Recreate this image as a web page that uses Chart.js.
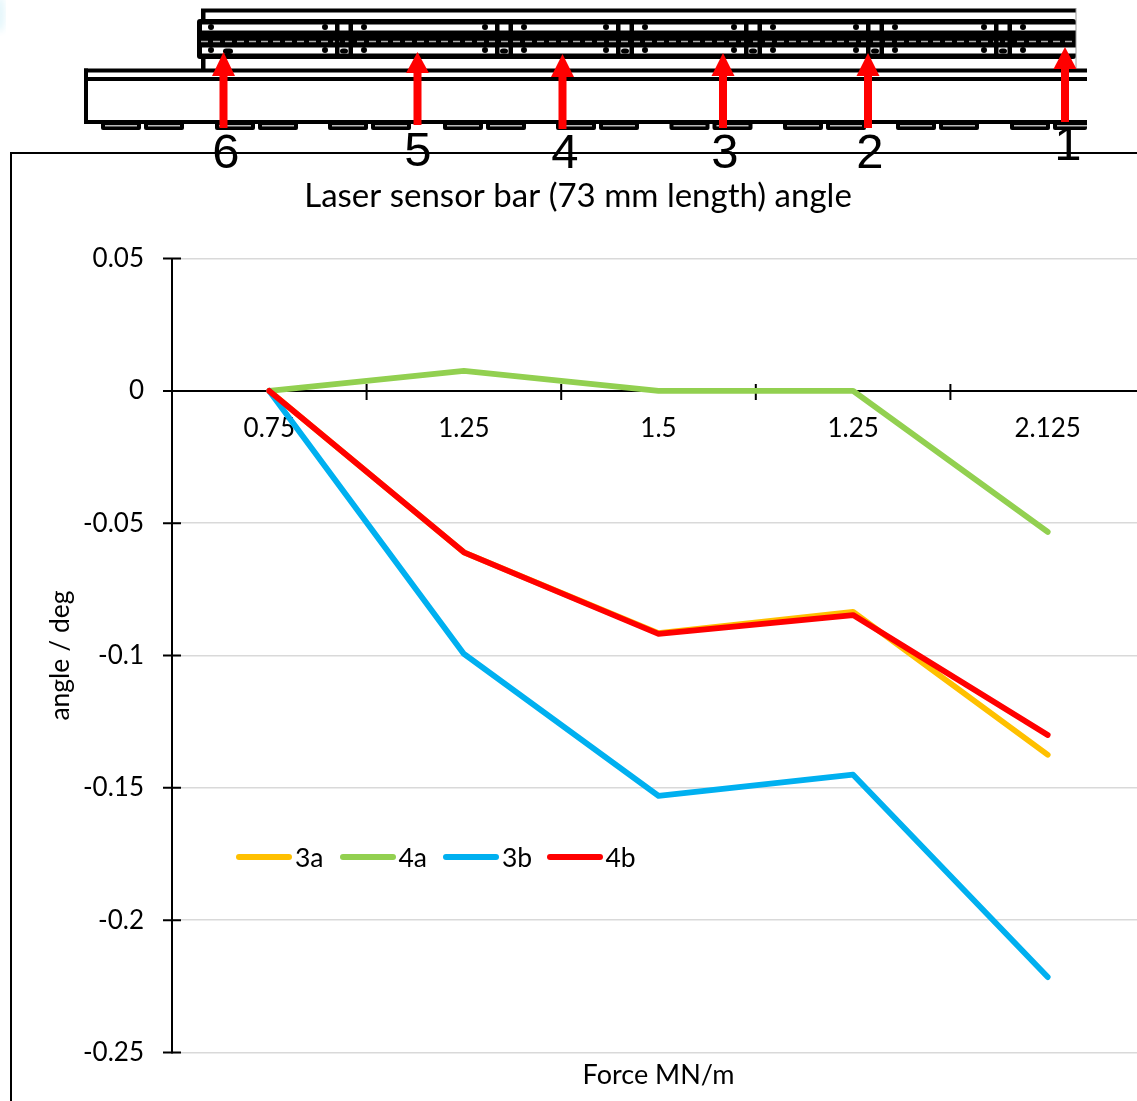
<!DOCTYPE html>
<html>
<head>
<meta charset="utf-8">
<title>Laser sensor bar angle</title>
<script src="https://cdn.jsdelivr.net/npm/chart.js@4"></script>
<style>
html, body { margin: 0; padding: 0; width: 1137px; height: 1101px; overflow: hidden; background: #fff; }
#wrap { position: absolute; left: 0; top: 0; width: 1156px; height: 1101px; }
#chart { position: absolute; left: 0; top: 0; }
#diagram { position: absolute; left: 0; top: 0; }
#legend { position: absolute; left: 236px; top: 840px; display: flex; font: 26.5px Lato, sans-serif; color: #000; line-height: 34px; }
#legend .item { display: flex; align-items: center; width: 103.5px; }
#legend .swatch { width: 56px; height: 5.5px; border-radius: 3px; margin-right: 3px; }
</style>
</head>
<body>
<div id="wrap">
    <canvas id="chart" width="1156" height="1101"></canvas>
    <svg id="diagram" width="1137" height="1101"></svg>
    <div id="legend"></div>
</div>
<script>
var categories = ['0.75', '1.25', '1.5', '1.25', '2.125'];
var values3a = [0, -0.061, -0.0915, -0.0835, -0.1375];
var values4a = [0, 0.0076, 0, 0, -0.0533];
var values3b = [0, -0.0994, -0.153, -0.145, -0.2215];
var values4b = [0, -0.061, -0.0918, -0.0847, -0.13];

// sketch of the bar above the chart
var jointX = [344, 504, 625, 753, 875, 1003];
var padX = [101, 215, 328, 443, 556, 669.5, 783, 896, 1010];
var arrows = [
    { label: '6', x: 223.5, tip: 52, base: 76, end: 128, textX: 226, textY: 168 },
    { label: '5', x: 417.5, tip: 52, base: 73, end: 125, textX: 418, textY: 166 },
    { label: '4', x: 562.5, tip: 54, base: 77, end: 129, textX: 565, textY: 168 },
    { label: '3', x: 723, tip: 53, base: 76, end: 128, textX: 725, textY: 168 },
    { label: '2', x: 868, tip: 53, base: 76, end: 128, textX: 870, textY: 168 },
    { label: '1', x: 1065, tip: 47, base: 69, end: 122, textX: 1068, textY: 160 }
];

function rect(x, y, w, h, fill, rx) {
    return '<rect x="' + x + '" y="' + y + '" width="' + w + '" height="' + h + '" fill="' + fill + '"' + (rx ? ' rx="' + rx + '"' : '') + '/>';
}

function dot(x, y) {
    return '<circle cx="' + x + '" cy="' + y + '" r="3" fill="#000"/>';
}

function buildDiagram() {
    var s = '';
    // faint smudge in the corner
    s += '<defs><filter id="soft"><feGaussianBlur stdDeviation="3"/></filter></defs>';
    s += '<ellipse cx="0" cy="14" rx="5" ry="18" fill="#e4f6fb" filter="url(#soft)"/>';
    // rail
    s += rect(201, 8.5, 875, 4, '#000');
    s += rect(201, 10, 4.5, 60, '#000');
    s += rect(197, 19, 879, 40, '#000', 3);
    s += rect(202, 24.5, 874, 6, '#fff');
    s += rect(202, 47.5, 874, 6, '#fff');
    s += '<line x1="201" y1="41.5" x2="1076" y2="41.5" stroke="#aaa" stroke-width="1.5" stroke-dasharray="7 5"/>';
    s += '<line x1="1076" y1="8" x2="1076" y2="68" stroke="#999" stroke-width="1"/>';
    s += dot(211, 27) + dot(211, 50) + rect(223, 48.5, 10, 5.5, '#000', 3);
    jointX.forEach(function(c) {
        s += rect(c - 9, 24, 4.5, 30, '#000') + rect(c + 4.5, 24, 4.5, 30, '#000');
        s += rect(c - 4, 48.5, 8, 5, '#000', 3);
        s += dot(c - 19, 27) + dot(c + 20, 27) + dot(c - 19, 50) + dot(c + 20, 50);
    });
    // base plate
    s += rect(84, 68.5, 1003, 4, '#000');
    s += rect(84, 77, 1003, 4, '#000');
    s += rect(84, 68.5, 4, 55, '#000');
    s += rect(84, 120, 1003, 4, '#000');
    padX.forEach(function(x) {
        s += rect(x, 122, 40, 8, '#000', 2) + rect(x + 43, 122, Math.min(40, 1087 - x - 43), 8, '#000', 2);
        s += rect(x + 4, 125, 32, 1.5, '#bbb') + rect(x + 47, 125, Math.min(32, 1087 - x - 47), 1.5, '#bbb');
    });
    // frame of the chart
    s += rect(11, 152, 1126, 2, '#000');
    s += rect(10, 152, 2, 949, '#000');
    // arrows and their numbers
    arrows.forEach(function(a) {
        s += rect(a.x - 4, a.base - 1, 8, a.end - a.base + 1, '#f00');
        s += '<polygon fill="#f00" points="' + a.x + ',' + a.tip + ' ' + (a.x + 11.5) + ',' + a.base + ' ' + (a.x - 11.5) + ',' + a.base + '"/>';
        s += '<text x="' + a.textX + '" y="' + a.textY + '" text-anchor="middle" font-family="Liberation Sans" font-size="49" fill="#000">' + a.label + '</text>';
    });
    document.getElementById('diagram').innerHTML = s;
}

// ticks that cross both axes, as in the spreadsheet original
var crossTicks = {
    id: 'crossTicks',
    beforeDraw: function(chart) {
        // title is centred on the whole canvas, not on the padded box
        chart.titleBlock.left = 0;
        chart.titleBlock.right = chart.width;
    },
    beforeDatasetsDraw: function(chart) {
        var ctx = chart.ctx;
        var x = chart.scales.x;
        var y = chart.scales.y;
        var zero = y.getPixelForValue(0);
        ctx.save();
        ctx.strokeStyle = '#000';
        ctx.lineWidth = 2;
        ctx.beginPath();
        for (var i = 1; i < categories.length; i++) {
            var px = (x.getPixelForValue(i - 1) + x.getPixelForValue(i)) / 2;
            ctx.moveTo(px, zero - 7);
            ctx.lineTo(px, zero + 9);
        }
        y.ticks.forEach(function(t) {
            var py = y.getPixelForValue(t.value);
            ctx.moveTo(y.right - 9, py);
            ctx.lineTo(y.right + 9, py);
        });
        ctx.stroke();
        ctx.restore();
    }
};

var chart = new Chart(document.getElementById('chart'), {
    type: 'line',
    plugins: [crossTicks],
    data: {
        labels: categories,
        datasets: [
            { label: '3a', data: values3a, borderColor: '#FFC000', order: 4 },
            { label: '4a', data: values4a, borderColor: '#92D050', order: 3 },
            { label: '3b', data: values3b, borderColor: '#00B0F0', order: 2 },
            { label: '4b', data: values4b, borderColor: '#FF0000', order: 1 }
        ]
    },
    options: {
        responsive: false,
        animation: false,
        layout: { padding: { left: 45, right: 11, top: 167, bottom: 9.5 } },
        font: { family: 'Lato' },
        elements: {
            line: { borderWidth: 5.8, tension: 0, borderCapStyle: 'round', borderJoinStyle: 'round' },
            point: { radius: 0 }
        },
        plugins: {
            legend: { display: false },
            tooltip: { enabled: false },
            title: {
                display: true,
                text: 'Laser sensor bar (73 mm length) angle',
                color: '#000',
                font: { family: 'Lato', size: 33, weight: 'normal' },
                padding: { top: 10, bottom: 42 }
            },
            subtitle: {
                display: true,
                position: 'bottom',
                fullSize: false,
                text: 'Force MN/m',
                color: '#000',
                font: { family: 'Lato', size: 27, weight: 'normal' },
                padding: { top: 6.6, bottom: 0 }
            }
        },
        scales: {
            x: {
                position: { y: 0 },
                offset: true,
                grid: { drawOnChartArea: false, drawTicks: false, offset: true },
                border: { color: '#000', width: 2 },
                ticks: { color: '#000', padding: 22.5, maxRotation: 0, autoSkip: false, font: { family: 'Lato', size: 26 } }
            },
            y: {
                min: -0.25,
                max: 0.05,
                afterFit: function(scale) { scale.width = 127; },
                grid: { color: '#d9d9d9', lineWidth: 1.5, drawTicks: false },
                border: { color: '#000', width: 2 },
                ticks: {
                    stepSize: 0.05,
                    color: '#000',
                    padding: 28,
                    font: { family: 'Lato', size: 26 },
                    callback: function(v) { return String(Number(v.toFixed(2))); }
                },
                title: {
                    display: true,
                    text: 'angle / deg',
                    color: '#000',
                    font: { family: 'Lato', size: 26.5 },
                    padding: 0
                }
            }
        }
    }
});

buildDiagram();

var legendBox = document.getElementById('legend');
chart.data.datasets.forEach(function(d) {
    var item = document.createElement('div');
    item.className = 'item';
    var swatch = document.createElement('span');
    swatch.className = 'swatch';
    swatch.style.background = d.borderColor;
    var text = document.createElement('span');
    text.textContent = d.label;
    item.appendChild(swatch);
    item.appendChild(text);
    legendBox.appendChild(item);
});
</script>
</body>
</html>
